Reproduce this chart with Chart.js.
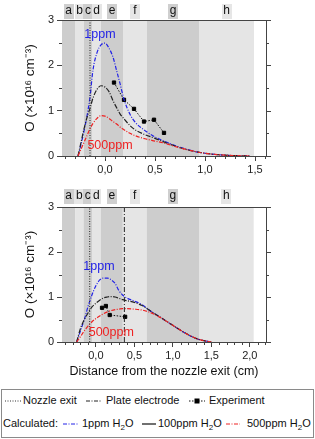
<!DOCTYPE html>
<html>
<head>
<meta charset="utf-8">
<script src="https://cdn.jsdelivr.net/npm/chart.js@4"></script>
<style>
  body { margin: 0; background: #fff; font-family: "Liberation Sans", Arial, sans-serif; }
  #wrap { position: relative; width: 315px; height: 439px; overflow: hidden; }
  canvas { position: absolute; left: 0; }
  #legend { position: absolute; left: 1px; top: 389px; width: 311px; height: 47px; border: 1px solid #8a8a8a; font-size: 11px; color: #111; }
  .it { position: absolute; white-space: nowrap; line-height: 13px; }
  .it svg { display: block; }
</style>
</head>
<body>
<div id="wrap">
  <canvas id="topChart" width="315" height="180" style="top:0"></canvas>
  <canvas id="bottomChart" width="315" height="205" style="top:180px"></canvas>
  <div id="legend">
    <span class="it" style="left:3px;top:4px"><svg width="16" height="13"><line x1="0" y1="7" x2="16" y2="7" stroke="#333" stroke-width="1" stroke-dasharray="1,1.5"/></svg></span>
    <span class="it" style="left:21px;top:4px">Nozzle exit</span>
    <span class="it" style="left:84px;top:4px"><svg width="16" height="13"><line x1="0" y1="7" x2="16" y2="7" stroke="#222" stroke-width="1" stroke-dasharray="4,1.5,1,1.5"/></svg></span>
    <span class="it" style="left:104px;top:4px">Plate electrode</span>
    <span class="it" style="left:187px;top:4px"><svg width="16" height="13"><line x1="0" y1="7" x2="16" y2="7" stroke="#111" stroke-width="1" stroke-dasharray="1.5,1.5"/><rect x="5.5" y="4.5" width="5" height="5" fill="#000"/></svg></span>
    <span class="it" style="left:207px;top:4px">Experiment</span>
    <span class="it" style="left:1px;top:27px">Calculated:</span>
    <span class="it" style="left:61px;top:27px"><svg width="15" height="13"><line x1="0" y1="7" x2="15" y2="7" stroke="#2323e6" stroke-width="1" stroke-dasharray="4,1.5,1,1.5"/></svg></span>
    <span class="it" style="left:80px;top:27px">1ppm H<sub style="font-size:8px">2</sub>O</span>
    <span class="it" style="left:140px;top:27px"><svg width="14" height="13"><line x1="0" y1="7" x2="14" y2="7" stroke="#222" stroke-width="1.3"/></svg></span>
    <span class="it" style="left:156px;top:27px">100ppm H<sub style="font-size:8px">2</sub>O</span>
    <span class="it" style="left:224px;top:27px"><svg width="14" height="13"><line x1="0" y1="7" x2="14" y2="7" stroke="#ee2222" stroke-width="1" stroke-dasharray="4,1.5,1,1.5"/></svg></span>
    <span class="it" style="left:245px;top:27px">500ppm H<sub style="font-size:8px">2</sub>O</span>
  </div>
</div>
<script>
// zones a..h shown as grey bands
const zoneLetters = ['a', 'b', 'c', 'd', 'e', 'f', 'g', 'h'];
const topZoneEdges = [-0.43, -0.30, -0.21, -0.13, -0.04, 0.18, 0.42, 0.94, 1.49];
const bottomZoneEdges = [-0.44, -0.27, -0.16, -0.05, 0.065, 0.35, 0.66, 1.34, 2.05];

// top panel
const topX = [-0.27, -0.24, -0.21, -0.18, -0.15, -0.12, -0.08, -0.04, 0, 0.04, 0.08, 0.12, 0.15, 0.19, 0.25, 0.3, 0.4, 0.5, 0.6, 0.7, 0.8, 0.9, 1.0, 1.1, 1.2, 1.3, 1.4, 1.45];
const top1ppm = [0, 0.25, 0.55, 0.88, 1.3, 1.9, 2.28, 2.45, 2.49, 2.38, 2.18, 1.85, 1.6, 1.25, 0.92, 0.75, 0.56, 0.42, 0.32, 0.23, 0.16, 0.1, 0.06, 0.035, 0.018, 0.008, 0.002, 0];
const top100ppm = [0, 0.3, 0.6, 0.85, 1.05, 1.28, 1.47, 1.55, 1.52, 1.42, 1.22, 1.05, 0.93, 0.82, 0.67, 0.58, 0.47, 0.39, 0.3, 0.22, 0.15, 0.1, 0.06, 0.035, 0.018, 0.008, 0.002, 0];
const top500ppm = [0, 0.15, 0.3, 0.45, 0.6, 0.72, 0.83, 0.89, 0.88, 0.83, 0.76, 0.7, 0.64, 0.58, 0.5, 0.45, 0.38, 0.33, 0.28, 0.21, 0.15, 0.1, 0.06, 0.035, 0.018, 0.008, 0.002, 0];
const topExpX = [0.09, 0.19, 0.29, 0.39, 0.49, 0.59];
const topExpY = [1.62, 1.24, 1.04, 0.76, 0.8, 0.51];
const topNozzle = -0.15;
const topTicksX = [0, 0.5, 1.0, 1.5];

// bottom panel
const botX = [-0.25, -0.2, -0.15, -0.1, -0.05, 0, 0.05, 0.1, 0.15, 0.2, 0.25, 0.3, 0.35, 0.4, 0.5, 0.6, 0.7, 0.8, 0.9, 1.0, 1.1, 1.2, 1.3, 1.4, 1.5];
const bot1ppm = [0, 0.25, 0.5, 0.8, 1.05, 1.25, 1.38, 1.42, 1.42, 1.38, 1.3, 1.14, 1.04, 0.98, 0.91, 0.83, 0.7, 0.59, 0.48, 0.37, 0.26, 0.16, 0.08, 0.03, 0];
const bot100ppm = [0, 0.3, 0.5, 0.65, 0.78, 0.86, 0.93, 0.98, 1.0, 1.01, 1.0, 0.97, 0.94, 0.92, 0.88, 0.81, 0.7, 0.59, 0.48, 0.37, 0.26, 0.16, 0.08, 0.03, 0];
const bot500ppm = [0, 0.12, 0.25, 0.36, 0.45, 0.52, 0.58, 0.63, 0.67, 0.7, 0.72, 0.73, 0.74, 0.74, 0.73, 0.71, 0.66, 0.58, 0.48, 0.37, 0.26, 0.16, 0.08, 0.03, 0];
const botExpX = [0.08, 0.13, 0.18, 0.38];
const botExpY = [0.76, 0.8, 0.6, 0.56];
const botNozzle = -0.08;
const botPlate = 0.37;
const botTicksX = [0, 0.5, 1.0, 1.5, 2.0];

const yTicks = [0, 1, 2, 3];

const BLUE = '#2323e6', RED = '#ee2222', BLACK = '#222';
const FONT = '"Liberation Sans", Arial, sans-serif';

function pts(xs, ys) { return xs.map((x, i) => ({ x: x, y: ys[i] })); }

const decor = {
  id: 'decor',
  beforeDatasetsDraw(chart, args, opts) {
    const { ctx, chartArea: a, scales: { x } } = chart;
    ctx.save();
    for (let i = 0; i < opts.edges.length - 1; i++) {
      const x0 = x.getPixelForValue(opts.edges[i]);
      const x1 = x.getPixelForValue(opts.edges[i + 1]);
      ctx.fillStyle = i % 2 ? '#e5e5e5' : '#cdcdcd';
      ctx.fillRect(x0, a.top, x1 - x0, a.bottom - a.top);
      const cx = (x0 + x1) / 2;
      const cy = a.top - opts.letterGap;
      ctx.fillStyle = i % 2 ? '#e6e6e6' : '#cfcfcf';
      ctx.fillRect(Math.round(cx - 5), Math.round(cy - 7), 10, 15);
      ctx.fillStyle = '#111';
      ctx.font = '12px ' + FONT;
      ctx.textAlign = 'center';
      ctx.textBaseline = 'middle';
      ctx.fillText(zoneLetters[i], cx, cy + 0.5);
    }
    ctx.restore();
  },
  afterDraw(chart, args, opts) {
    const { ctx, chartArea: a, scales: { x, y } } = chart;
    ctx.save();
    ctx.strokeStyle = '#444';
    ctx.lineWidth = 1;
    ctx.beginPath();
    // top border and right axis
    ctx.moveTo(a.left, a.top + 0.5); ctx.lineTo(a.right + 0.5, a.top + 0.5);
    ctx.moveTo(a.right + 0.5, a.top); ctx.lineTo(a.right + 0.5, a.bottom);
    // right axis ticks
    for (let v = y.min; v <= y.max + 1e-9; v += 0.5) {
      const py = Math.round(y.getPixelForValue(v)) + 0.5;
      const len = Math.abs(v - Math.round(v)) < 1e-6 ? 5 : 3;
      ctx.moveTo(a.right, py); ctx.lineTo(a.right + len, py);
      if (len === 3) { ctx.moveTo(a.left, py); ctx.lineTo(a.left - 3, py); }
    }
    // minor x ticks
    for (let k = Math.ceil(x.min * 10); k <= Math.floor(x.max * 10); k++) {
      if (k % 5 === 0) continue;
      const px = Math.round(x.getPixelForValue(k / 10)) + 0.5;
      ctx.moveTo(px, a.bottom); ctx.lineTo(px, a.bottom + 3);
    }
    ctx.stroke();
    // curve labels
    ctx.font = '12.5px ' + FONT;
    ctx.textAlign = 'center';
    ctx.textBaseline = 'middle';
    opts.labels.forEach(l => {
      ctx.fillStyle = l.color;
      ctx.fillText(l.text, x.getPixelForValue(l.x), y.getPixelForValue(l.y));
    });
    ctx.restore();
  }
};

function curve(data, color, dash) {
  return {
    data: data, borderColor: color, borderWidth: 1.2, borderDash: dash,
    pointRadius: 0, cubicInterpolationMode: 'monotone', fill: false
  };
}

function vline(xv, dash) {
  return {
    data: [{ x: xv, y: 0 }, { x: xv, y: 3 }], borderColor: BLACK, borderWidth: 1,
    borderDash: dash, pointRadius: 0, tension: 0, fill: false
  };
}

function experiment(xs, ys) {
  return {
    data: pts(xs, ys), borderColor: '#111', borderWidth: 1, borderDash: [1.5, 1.5],
    pointStyle: 'rect', pointRadius: 2.3, pointBackgroundColor: '#000', pointBorderColor: '#000',
    tension: 0, fill: false
  };
}

function makeChart(id, cfg) {
  return new Chart(document.getElementById(id).getContext('2d'), {
    type: 'line',
    data: { datasets: cfg.datasets },
    options: {
      responsive: false,
      animation: false,
      devicePixelRatio: 1,
      layout: { padding: { left: 18, right: 49, top: cfg.padTop, bottom: 0 } },
      plugins: {
        legend: { display: false },
        tooltip: { enabled: false },
        decor: { edges: cfg.edges, letterGap: cfg.letterGap, labels: cfg.labels }
      },
      scales: {
        x: {
          type: 'linear', min: cfg.xMin, max: cfg.xMax,
          afterBuildTicks: s => { s.ticks = cfg.xTicks.map(v => ({ value: v })); },
          afterFit: s => { s.height = cfg.xHeight; },
          grid: { drawOnChartArea: false, tickLength: 5, color: '#444', tickColor: '#444' },
          border: { color: '#444' },
          ticks: { color: '#222', padding: 2, font: { size: 11, family: FONT }, maxRotation: 0,
                   callback: v => v.toFixed(1).replace('.', ',') },
          title: { display: cfg.xTitle, text: 'Distance from the nozzle exit (cm)', color: '#111',
                   font: { size: 12.5, family: FONT }, padding: { top: 0, bottom: 6 } }
        },
        y: {
          type: 'linear', min: 0, max: 3,
          afterBuildTicks: s => { s.ticks = yTicks.map(v => ({ value: v })); },
          afterFit: s => { s.width = 44; },
          grid: { drawOnChartArea: false, tickLength: 5, color: '#444', tickColor: '#444' },
          border: { color: '#444' },
          ticks: { color: '#222', padding: 3, font: { size: 11, family: FONT } },
          title: { display: true, text: 'O (×10¹⁶ cm⁻³)', color: '#111',
                   font: { size: 13.5, family: FONT } }
        }
      }
    },
    plugins: [decor]
  });
}

makeChart('topChart', {
  padTop: 20, xHeight: 24, xMin: -0.43, xMax: 1.61, xTicks: topTicksX, xTitle: false,
  edges: topZoneEdges, letterGap: 9.5,
  labels: [
    { text: '1ppm', x: -0.05, y: 2.67, color: BLUE },
    { text: '500ppm', x: 0.05, y: 0.24, color: RED }
  ],
  datasets: [
    vline(topNozzle, [1, 1.5]),
    curve(pts(topX, top500ppm), RED, [4, 1.5, 1, 1.5]),
    curve(pts(topX, top100ppm), BLACK, [5, 1.5, 1, 1.5]),
    curve(pts(topX, top1ppm), BLUE, [4, 1.5, 1, 1.5]),
    experiment(topExpX, topExpY)
  ]
});

makeChart('bottomChart', {
  padTop: 27, xHeight: 43, xMin: -0.44, xMax: 2.21, xTicks: botTicksX, xTitle: true,
  edges: bottomZoneEdges, letterGap: 11.5,
  labels: [
    { text: '1ppm', x: 0.04, y: 1.67, color: BLUE },
    { text: '500ppm', x: 0.2, y: 0.22, color: RED }
  ],
  datasets: [
    vline(botNozzle, [1, 1.5]),
    vline(botPlate, [5, 2, 1, 2]),
    curve(pts(botX, bot500ppm), RED, [4, 1.5, 1, 1.5]),
    curve(pts(botX, bot100ppm), BLACK, [5, 1.5, 1, 1.5]),
    curve(pts(botX, bot1ppm), BLUE, [4, 1.5, 1, 1.5]),
    experiment(botExpX, botExpY)
  ]
});
</script>
</body>
</html>
